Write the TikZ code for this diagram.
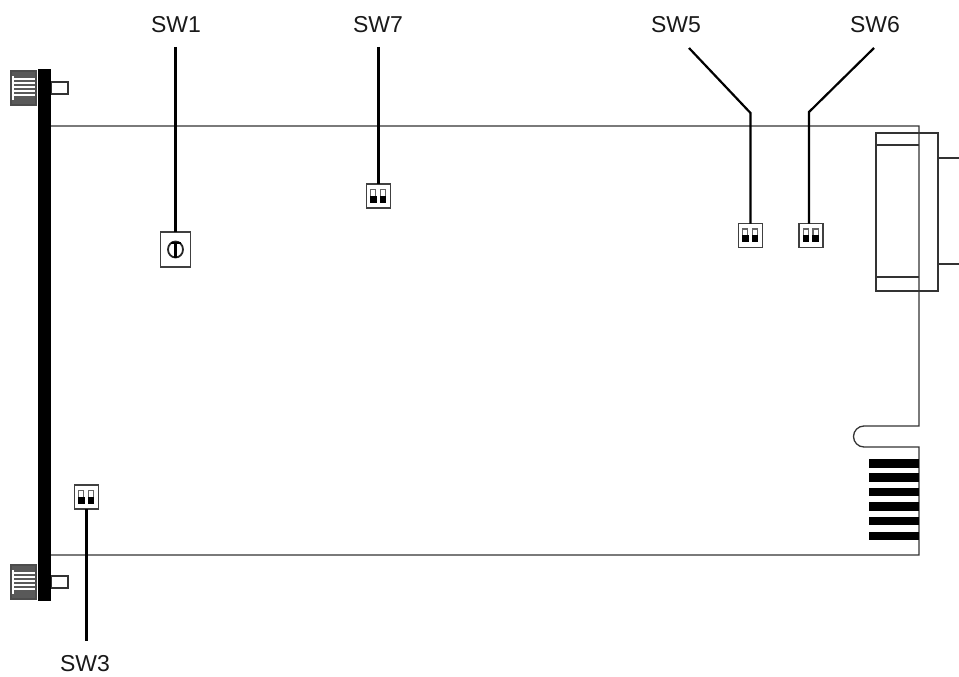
\documentclass[tikz,border=0pt]{standalone}
\usepackage{fontspec}
\setmainfont{Liberation Sans}
\tikzset{
  thin line/.style={draw=black!80,line width=1.3pt},
  leader/.style={draw=black,line width=2.2pt},
  label text/.style={font=\fontsize{23}{26}\selectfont,text=black!90,inner sep=0pt},
  swbox/.style={draw=black!75,line width=1.5pt,fill=white,minimum width=24pt,minimum height=24pt,inner sep=0pt,outer sep=0pt},
  dialbox/.style={swbox,minimum width=30pt,minimum height=35pt},
}
\newcommand{\dipsw}[3]{%
  \node[swbox] (#1) at (#2,#3) {};
  \foreach \dx in {-5.2,4.6}{
    \draw[black!60,line width=1.1pt,fill=white] (#2+\dx-2.6,#3-6.5) rectangle (#2+\dx+2.6,#3+6);
    \fill[black] (#2+\dx-3.2,#3-0.5) rectangle (#2+\dx+3.2,#3+6.6);
  }
}
\begin{document}
\begin{tikzpicture}[x=1pt,y=-1pt]
\useasboundingbox (0,0) rectangle (959,677);
% board outline
\draw[thin line] (51,126) -- (919,126) -- (919,426) -- (864,426)
  arc[start angle=270,end angle=90,radius=10.5] -- (919,447) -- (919,555) -- (51,555);
% connector
\draw[thin line] (876,133) rectangle (938,291);
\draw[thin line] (876,145) -- (919,145);
\draw[thin line] (876,277) -- (919,277);
\coordinate (connA) at (938,158);
\coordinate (connB) at (938,264);
\coordinate (edgeA) at (959,158);
\coordinate (edgeB) at (959,264);
\draw[thin line] (connA) -- (edgeA);
\draw[thin line] (connB) -- (edgeB);
% fingers
\foreach \a/\b in {459/467.5,473.3/481.8,487.7/496,502.3/510.5,517/525.2,531.7/540}
  \fill[black] (869,\a) rectangle (919,\b);
% stubs and knobs
\draw[thin line] (51,82) rectangle (68,94);
\draw[thin line] (51,576) rectangle (68,588);
\foreach \t in {71,565}{
  \fill[black!65] (11,\t) rectangle (36,\t+34);
  \foreach \d in {8,12,16,20,24}
    \draw[white,line width=1.5pt] (13,\t+\d) -- (36,\t+\d);
  \fill[white] (12,\t+5) rectangle (14,\t+29);
  \draw[black!70,line width=1.2pt] (11,\t) rectangle (36,\t+34);
}
% front panel
\fill[black] (38,69) rectangle (51,601);
% switches
\dipsw{swC}{378.5}{196}
\dipsw{swD}{750.5}{235.5}
\dipsw{swE}{811}{235.5}
\dipsw{swB}{86.5}{497}
\node[dialbox] (swA) at (175.5,249.5) {};
\draw[black!85,line width=1.8pt] (175.5,249.5) circle[x radius=7.5,y radius=8];
\draw[black,line width=2.2pt] (175.5,241.5) -- (175.5,257.5);
\draw[black,line width=2pt] (170.5,242.5) -- (180.5,242.5);
% labels
\node[label text] (l1) at (176,25) {SW1};
\node[label text] (l7) at (378,25) {SW7};
\node[label text] (l5) at (676,25) {SW5};
\node[label text] (l6) at (875,25) {SW6};
\node[label text] (l3) at (85,664) {SW3};
% leaders
\coordinate (t1) at (175.5,47);
\coordinate (t7) at (378.5,47);
\coordinate (t5) at (689,48);
\coordinate (t6) at (874,48);
\coordinate (t3) at (86.5,641);
\draw[leader] (t1) -- (swA.north);
\draw[leader] (t7) -- (swC.north);
\draw[leader] (t5) -- (750.5,113) -- (swD.north);
\draw[leader] (t6) -- (809,112) -- (809,223.5);
\draw[leader] (swB.south) -- (t3);
\end{tikzpicture}
\end{document}
